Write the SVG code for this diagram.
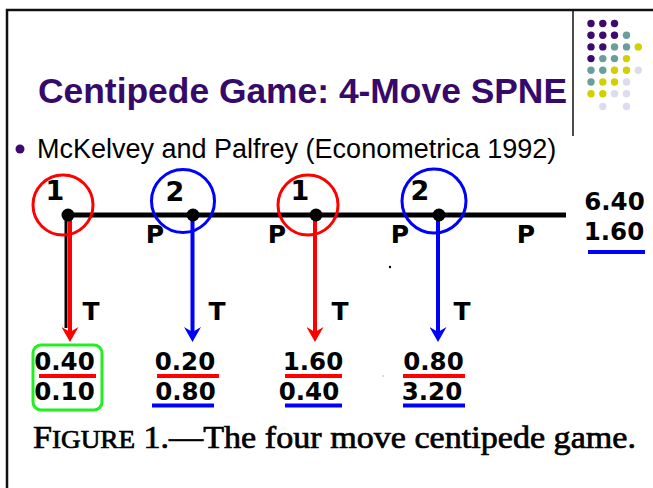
<svg xmlns="http://www.w3.org/2000/svg" width="653" height="488" viewBox="0 0 653 488">
  <style>
    .frame { fill: none; stroke: #111; stroke-width: 2.5; }
    .title { font-family: "Liberation Sans", Arial, sans-serif; font-weight: bold; font-size: 35.4px; fill: #360a6a; }
    .bullet { font-family: "Liberation Sans", Arial, sans-serif; font-size: 27px; fill: #000; }
    .letter { font-family: "DejaVu Sans", sans-serif; font-weight: bold; fill: #000; text-anchor: middle; }
    .num { font-size: 24.5px; }
    .lbl { font-size: 25px; }
    .who { font-size: 27px; }
    .caption { font-family: "Liberation Serif", "Times New Roman", serif; font-size: 32px; fill: #000; stroke: #000; stroke-width: 0.7; }
    .red { stroke: #ff0000; }
    .blue { stroke: #0000ff; }
    .ring { fill: none; stroke-width: 3; }
    .move { fill: none; stroke-width: 4; }
    .uline { stroke-width: 4; }
    .pu { fill: #3d0a6e; }
    .te { fill: #6a9e9c; }
    .ye { fill: #d2d000; }
    .la { fill: #dcdcee; }
  </style>
  <defs>
    <marker id="headRed" markerUnits="userSpaceOnUse" viewBox="0 0 15 17" markerWidth="15" markerHeight="17" refX="9" refY="8.5" orient="auto">
      <path d="M0,0 L15,8.5 L0,17 L5,8.5 z" fill="#ff0000"/>
    </marker>
    <marker id="headBlue" markerUnits="userSpaceOnUse" viewBox="0 0 15 17" markerWidth="15" markerHeight="17" refX="9" refY="8.5" orient="auto">
      <path d="M0,0 L15,8.5 L0,17 L5,8.5 z" fill="#0000ff"/>
    </marker>
  </defs>

  <!-- slide frame -->
  <path class="frame" d="M7,488 V10 H653"/>
  <line x1="573" y1="10" x2="573" y2="136" stroke="#111" stroke-width="1.5"/>

  <!-- decorative dot grid -->
  <g id="dot-grid">
    <circle class="pu" cx="591" cy="23.5" r="3.7"/><circle class="pu" cx="602.8" cy="23.5" r="3.7"/><circle class="pu" cx="614.5" cy="23.5" r="3.7"/>
    <circle class="pu" cx="591" cy="35.2" r="3.7"/><circle class="pu" cx="602.8" cy="35.2" r="3.7"/><circle class="pu" cx="614.5" cy="35.2" r="3.7"/><circle class="te" cx="626.5" cy="35.2" r="3.7"/>
    <circle class="pu" cx="591" cy="46.9" r="3.7"/><circle class="pu" cx="602.8" cy="46.9" r="3.7"/><circle class="te" cx="614.5" cy="46.9" r="3.7"/><circle class="te" cx="626.5" cy="46.9" r="3.7"/><circle class="ye" cx="638.3" cy="46.9" r="3.7"/>
    <circle class="pu" cx="591" cy="58.6" r="3.7"/><circle class="te" cx="602.8" cy="58.6" r="3.7"/><circle class="te" cx="614.5" cy="58.6" r="3.7"/><circle class="ye" cx="626.5" cy="58.6" r="3.7"/>
    <circle class="te" cx="591" cy="70.3" r="3.7"/><circle class="te" cx="602.8" cy="70.3" r="3.7"/><circle class="ye" cx="614.5" cy="70.3" r="3.7"/><circle class="ye" cx="626.5" cy="70.3" r="3.7"/><circle class="la" cx="638.3" cy="70.3" r="3.7"/>
    <circle class="te" cx="591" cy="82" r="3.7"/><circle class="ye" cx="602.8" cy="82" r="3.7"/><circle class="ye" cx="614.5" cy="82" r="3.7"/><circle class="la" cx="626.5" cy="82" r="3.7"/>
    <circle class="ye" cx="591" cy="93.7" r="3.7"/><circle class="ye" cx="602.8" cy="93.7" r="3.7"/><circle class="la" cx="614.5" cy="93.7" r="3.7"/><circle class="la" cx="626.5" cy="93.7" r="3.7"/>
    <circle class="la" cx="602.8" cy="106.5" r="3.7"/><circle class="la" cx="626.5" cy="106.5" r="3.7"/>
  </g>

  <!-- heading and bullet -->
  <text class="title" x="38" y="103">Centipede Game: 4-Move SPNE</text>
  <circle class="pu" cx="20" cy="149" r="4.5"/>
  <text class="bullet" x="37" y="158">McKelvey and Palfrey (Econometrica 1992)</text>

  <!-- connectors: pass edges along the spine and take edges downwards -->
  <g id="connectors">
    <line x1="66" y1="215" x2="566" y2="215" stroke="#000" stroke-width="5"/>
    <line x1="66" y1="215" x2="66" y2="328" stroke="#000" stroke-width="3"/>
    <line class="move red" x1="70" y1="215" x2="70" y2="336" marker-end="url(#headRed)"/>
    <line class="move blue" x1="192.5" y1="215" x2="192.5" y2="336" marker-end="url(#headBlue)"/>
    <line class="move red" x1="315" y1="215" x2="315" y2="336" marker-end="url(#headRed)"/>
    <line class="move blue" x1="438" y1="215" x2="438" y2="336" marker-end="url(#headBlue)"/>
    <g class="letter lbl">
      <text x="155" y="243">P</text>
      <text x="277" y="243">P</text>
      <text x="400" y="243">P</text>
      <text x="526" y="243">P</text>
      <text x="91" y="320">T</text>
      <text x="217" y="320">T</text>
      <text x="340" y="320">T</text>
      <text x="462" y="320">T</text>
    </g>
  </g>

  <!-- decision nodes -->
  <g id="node-1">
    <circle cx="68" cy="215" r="6.5" fill="#000"/>
    <circle class="ring red" cx="63" cy="205" r="30"/>
    <text class="letter who" x="55" y="200">1</text>
  </g>
  <g id="node-2">
    <circle cx="193" cy="215" r="6.5" fill="#000"/>
    <circle class="ring blue" cx="183" cy="201" r="31.5"/>
    <text class="letter who" x="175" y="201">2</text>
  </g>
  <g id="node-3">
    <circle cx="316" cy="215" r="6.5" fill="#000"/>
    <circle class="ring red" cx="308" cy="205" r="30"/>
    <text class="letter who" x="300" y="200">1</text>
  </g>
  <g id="node-4">
    <circle cx="439" cy="215" r="6.5" fill="#000"/>
    <circle class="ring blue" cx="434" cy="201" r="32"/>
    <text class="letter who" x="420" y="200">2</text>
  </g>

  <!-- terminal payoffs -->
  <g id="payoff-1">
    <rect x="33" y="345" width="69" height="65" rx="8" fill="none" stroke="#22ee22" stroke-width="3"/>
    <text class="letter num" x="64.5" y="370">0.40</text>
    <line class="uline red" x1="39" y1="376" x2="96" y2="376"/>
    <text class="letter num" x="64.5" y="400">0.10</text>
  </g>
  <g id="payoff-2">
    <text class="letter num" x="185" y="370">0.20</text>
    <line class="uline red" x1="157" y1="376" x2="219" y2="376"/>
    <text class="letter num" x="185.5" y="400">0.80</text>
    <line class="uline blue" x1="152" y1="405.5" x2="214" y2="405.5"/>
  </g>
  <g id="payoff-3">
    <text class="letter num" x="313" y="370">1.60</text>
    <line class="uline red" x1="285" y1="376" x2="342" y2="376"/>
    <text class="letter num" x="309" y="400">0.40</text>
    <line class="uline blue" x1="285" y1="405.5" x2="342" y2="405.5"/>
  </g>
  <g id="payoff-4">
    <text class="letter num" x="433.5" y="370">0.80</text>
    <line class="uline red" x1="403" y1="376" x2="465" y2="376"/>
    <text class="letter num" x="432" y="400">3.20</text>
    <line class="uline blue" x1="403" y1="405.5" x2="465" y2="405.5"/>
  </g>
  <g id="payoff-5">
    <text class="letter num" x="614.5" y="210">6.40</text>
    <text class="letter num" x="614" y="240">1.60</text>
    <line class="uline blue" x1="588" y1="252" x2="645" y2="252"/>
  </g>

  <!-- specks -->
  <circle cx="390" cy="267" r="1.2" fill="#000"/>
  <circle cx="383" cy="376" r="0.8" fill="#aaa"/>

  <!-- caption -->
  <text class="caption" x="33" y="448" textLength="603" lengthAdjust="spacingAndGlyphs">F<tspan font-size="25.5">IGURE</tspan> 1.—The four move centipede game.</text>
</svg>
